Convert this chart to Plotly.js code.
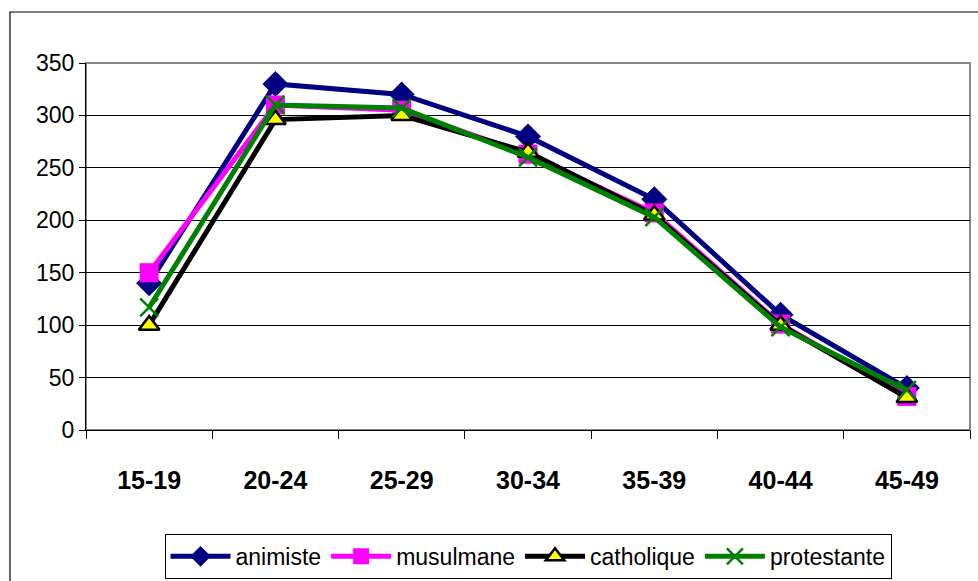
<!DOCTYPE html>
<html>
<head>
<meta charset="utf-8">
<script src="https://cdn.plot.ly/plotly-3.0.1.min.js"></script>
<style>
html,body{margin:0;padding:0;background:#fff;}
#chart{width:978px;height:581px;}
</style>
</head>
<body>
<div id="chart"></div>
<script>
const categories = ["15-19","20-24","25-29","30-34","35-39","40-44","45-49"];
const animiste    = [140, 330, 320, 280, 220, 110, 40];
const musulmane   = [150, 310, 305, 263, 207, 101, 32];
const catholique  = [100, 296, 300, 265, 205, 100, 31];
const protestante = [117, 310, 307, 260, 203, 98, 38];
const yTicks = [0, 50, 100, 150, 200, 250, 300, 350];

const traces = [
  {name:"animiste", y:animiste, line:{color:"#000080", width:5},
   marker:{symbol:"diamond", size:20, color:"#000080"}},
  {name:"musulmane", y:musulmane, line:{color:"#FF00FF", width:5},
   marker:{symbol:"square", size:19, color:"#FF00FF"}},
  {name:"catholique", y:catholique, line:{color:"#000000", width:5},
   marker:{symbol:"triangle-up", size:18, color:"#FFFF00", line:{color:"#000000", width:2.5}}},
  {name:"protestante", y:protestante, line:{color:"#008000", width:5},
   marker:{symbol:"x-thin-open", size:18, color:"#008000", line:{color:"#008000", width:2.5}}}
].map(t => Object.assign({type:"scatter", mode:"lines+markers", x:categories}, t));

const layout = {
  width:978, height:581,
  margin:{l:86, r:8, t:63, b:151, autoexpand:false},
  paper_bgcolor:"#fff", plot_bgcolor:"#fff",
  showlegend:true,
  legend:{orientation:"h", x:0.5, xanchor:"center", y:-0.283, yanchor:"top",
    bgcolor:"#fff", bordercolor:"#000", borderwidth:1,
    font:{family:"Liberation Sans, Arial", size:23, color:"#000"},
    itemwidth:60, tracegroupgap:0},
  xaxis:{type:"category", tickson:"boundaries", ticks:"outside", ticklen:8, tickcolor:"#000",
    showline:true, linecolor:"#000", linewidth:1, showgrid:false, zeroline:false,
    automargin:false, ticklabelstandoff:28,
    tickfont:{family:"Liberation Sans, Arial", size:25, color:"#000", weight:"bold"},
    range:[-0.5, 6.5]},
  yaxis:{range:[0,350], tickvals:yTicks, ticks:"outside", ticklen:6, tickcolor:"#000",
    showline:true, linecolor:"#000", linewidth:1, showgrid:true, gridcolor:"#000", gridwidth:1,
    zeroline:false, automargin:false,
    tickfont:{family:"Liberation Sans, Arial", size:23, color:"#000"}},
  shapes:[
    {type:"rect", xref:"paper", yref:"paper", x0:0, x1:1, y0:0, y1:1,
     line:{color:"#888", width:2}, layer:"below"},
    {type:"rect", xref:"paper", yref:"paper", x0:-0.086, x1:1.2, y0:1.139, y1:-0.6,
     line:{color:"#000", width:1.2}, layer:"below"}
  ]
};

Plotly.newPlot("chart", traces, layout, {staticPlot:true, displayModeBar:false});
</script>
</body>
</html>
